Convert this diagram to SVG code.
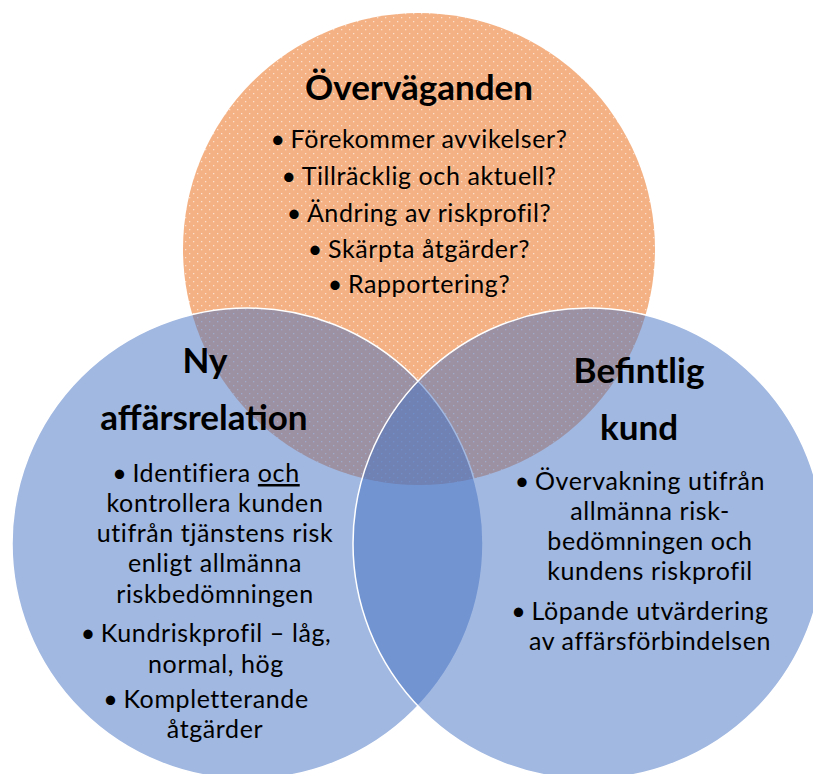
<svg xmlns="http://www.w3.org/2000/svg" width="813" height="774" viewBox="0 0 813 774">
  <defs>
    <!-- fine dotted texture on the top set -->
    <pattern id="dots" width="8" height="8" patternUnits="userSpaceOnUse">
      <rect width="8" height="8" fill="#f4b183"/>
      <rect x="1" y="1" width="1.3" height="1.3" fill="#ffffff" opacity="0.6"/>
      <rect x="5" y="5" width="1.3" height="1.3" fill="#ffffff" opacity="0.6"/>
    </pattern>
    <style>
      .set-blue { fill: #4472c4; fill-opacity: 0.5; stroke: #ffffff; stroke-width: 1.5; }
      .set-orange { fill: url(#dots); }
      text { font-family: Lato, "Open Sans", "DejaVu Sans", sans-serif; fill: #000000; text-anchor: middle; }
      .title { font-size: 35px; font-weight: 700; }
      .body { font-size: 25px; letter-spacing: 0.6px; }
      .u { text-decoration: underline; }
    </style>
  </defs>
  <rect width="813" height="774" fill="#ffffff"/>

  <g id="overvaganden">
    <circle class="set-orange" cx="419" cy="249" r="236"/>
    <text class="title" x="419" y="100">Överväganden</text>
    <text class="body" x="419" y="148">•<tspan dx="5">Förekommer avvikelser?</tspan></text>
    <text class="body" x="419" y="185">•<tspan dx="5">Tillräcklig och aktuell?</tspan></text>
    <text class="body" x="419" y="222">•<tspan dx="5">Ändring av riskprofil?</tspan></text>
    <text class="body" x="419" y="258">•<tspan dx="5">Skärpta åtgärder?</tspan></text>
    <text class="body" x="419" y="293">•<tspan dx="5">Rapportering?</tspan></text>
  </g>

  <g id="ny-affarsrelation">
    <circle class="set-blue" cx="247.5" cy="543.5" r="235.5"/>
    <text class="title" x="205" y="373">Ny</text>
    <text class="title" x="204" y="430">affärsrelation</text>
    <text class="body" x="206" y="482">•<tspan dx="5">Identifiera </tspan><tspan class="u">och</tspan></text>
    <text class="body" x="215" y="512">kontrollera kunden</text>
    <text class="body" x="215" y="542">utifrån tjänstens risk</text>
    <text class="body" x="215" y="572">enligt allmänna</text>
    <text class="body" x="215" y="603">riskbedömningen</text>
    <text class="body" x="206" y="642">•<tspan dx="5">Kundriskprofil – låg,</tspan></text>
    <text class="body" x="216" y="673">normal, hög</text>
    <text class="body" x="206" y="708">•<tspan dx="5">Kompletterande</tspan></text>
    <text class="body" x="215" y="738">åtgärder</text>
  </g>

  <g id="befintlig-kund">
    <circle class="set-blue" cx="588.5" cy="543.5" r="235.5"/>
    <text class="title" x="639" y="383">Befintlig</text>
    <text class="title" x="639" y="440">kund</text>
    <text class="body" x="640" y="490">•<tspan dx="5">Övervakning utifrån</tspan></text>
    <text class="body" x="650" y="520">allmänna risk-</text>
    <text class="body" x="650" y="550">bedömningen och</text>
    <text class="body" x="650" y="580">kundens riskprofil</text>
    <text class="body" x="640" y="620">•<tspan dx="5">Löpande utvärdering</tspan></text>
    <text class="body" x="650" y="650">av affärsförbindelsen</text>
  </g>
</svg>
